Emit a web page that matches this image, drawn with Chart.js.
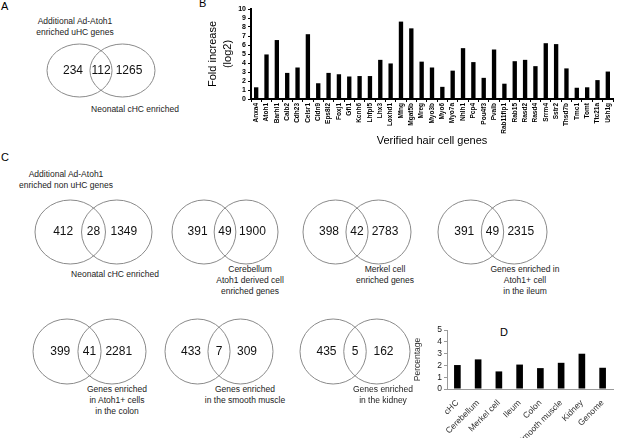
<!DOCTYPE html>
<html>
<head>
<meta charset="utf-8">
<script src="https://cdn.jsdelivr.net/npm/chart.js@4"></script>
<style>
  body { margin: 0; background: #fff; width: 617px; height: 438px; overflow: hidden; position: relative; font-family: Arial, "Liberation Sans", sans-serif; }
  canvas { position: absolute; }
  .lbl { position: absolute; color: #222; font-size: 8.5px; line-height: 11px; white-space: nowrap; text-align: center; transform: translateX(-50%); }
  .panel { position: absolute; font-size: 11px; color: #000; }
</style>
</head>
<body>
<div class="panel" style="left:1px;top:0px">A</div>
<div class="panel" style="left:199px;top:-3px">B</div>
<div class="panel" style="left:1px;top:151px">C</div>
<div class="panel" style="left:500px;top:326px">D</div>

<canvas id="chartB" width="414" height="150" style="left:203px;top:0px"></canvas>
<canvas id="chartD" width="204" height="118" style="left:413px;top:320px"></canvas>

<script>
// panel B
const geneLabels = ['Anxa4', 'Atoh1', 'Barhl1', 'Calb2', 'Cdh23', 'Celsr1', 'Cldn9', 'Eps8l2', 'Foxj1', 'Gfi1',
  'Kcnh6', 'Lhfpl5', 'Lhx3', 'Loxhd1', 'Mfng', 'Mgat5b', 'Mreg', 'Myo3b', 'Myo6', 'Myo7a',
  'Nhlh1', 'Pcp4', 'Pou4f3', 'Pvalb', 'Rab11fip1', 'Rab15', 'Rasd2', 'Rasd4', 'Srrm4', 'Sstr2',
  'Thsd7b', 'Tmc1', 'Tomt', 'Ttc21a', 'Ush1g'];
const foldIncrease = [1.3, 4.95, 6.55, 2.9, 3.5, 7.2, 1.75, 2.9, 2.75, 2.5,
  2.55, 2.55, 4.35, 3.95, 8.6, 7.85, 4.15, 3.5, 1.35, 3.15,
  5.65, 4.1, 2.35, 5.5, 1.7, 4.2, 4.35, 3.65, 6.2, 6.1,
  3.4, 1.25, 1.3, 2.1, 3.05];

// panel D
const tissueLabels = ['cHC', 'Cerebellum', 'Merkel cell', 'Ileum', 'Colon', 'Smooth muscle', 'Kidney', 'Genome'];
const percentOverlap = [2.03, 2.51, 1.49, 2.07, 1.77, 2.22, 2.99, 1.8];

// venn diagrams: [left only, overlap, right only]
const vennCounts = [
  [234, 112, 1265],
  [412, 28, 1349],
  [391, 49, 1900],
  [398, 42, 2783],
  [391, 49, 2315],
  [399, 41, 2281],
  [433, 7, 309],
  [435, 5, 162]
];
const vennCaptions = [
  ['Additional Ad-Atoh1', 'enriched uHC genes'],
  ['Neonatal cHC enriched'],
  ['Additional Ad-Atoh1', 'enriched non uHC genes'],
  ['Neonatal cHC enriched'],
  ['Cerebellum', 'Atoh1 derived cell', 'enriched genes'],
  ['Merkel cell', 'enriched genes'],
  ['Genes enriched in', 'Atoh1+ cell', 'in the ileum'],
  ['Genes enriched', 'in Atoh1+ cells', 'in the colon'],
  ['Genes enriched', 'in the smooth muscle'],
  ['Genes enriched', 'in the kidney']
];

// layout only
const vennBoxes = [
  [47, 44, 108, 53, 0.66],
  [35, 200, 117, 64, 0.66],
  [172, 200, 106, 64, 0.66],
  [303, 200, 108, 64, 0.66],
  [438, 200, 109, 64, 0.66],
  [33, 319, 113, 65, 0.66],
  [165, 319, 108, 65, 0.66],
  [300, 319, 110, 65, 0.66]
];
const captionPos = [[75, 16], [135, 104], [66, 169], [115, 269], [250, 264], [385, 264], [525, 264],
  [117, 384], [245, 384], [383, 384]];

const FONT = 'Arial, "Liberation Sans", sans-serif';
Chart.defaults.font.family = FONT;

vennCaptions.forEach((lines, i) => {
  const d = document.createElement('div');
  d.className = 'lbl';
  d.style.left = captionPos[i][0] + 'px';
  d.style.top = captionPos[i][1] + 'px';
  d.innerHTML = lines.join('<br>');
  document.body.appendChild(d);
});

const vennPlugin = {
  id: 'venn',
  afterDatasetsDraw(chart, args, opts) {
    const { ctx, scales: { x, y } } = chart;
    const c = opts.sep;
    const rx = x.getPixelForValue(1) - x.getPixelForValue(0);
    const ry = Math.abs(y.getPixelForValue(1) - y.getPixelForValue(0));
    const cy = y.getPixelForValue(0);
    ctx.save();
    ctx.strokeStyle = '#8a8a8a';
    ctx.lineWidth = 1;
    [-c, c].forEach(cx => {
      ctx.beginPath();
      ctx.ellipse(x.getPixelForValue(cx), cy, rx, ry, 0, 0, 2 * Math.PI);
      ctx.stroke();
    });
    ctx.fillStyle = '#111';
    ctx.font = '12px ' + FONT;
    ctx.textAlign = 'center';
    ctx.textBaseline = 'middle';
    const xs = [-(c + 0.2), 0, c + 0.2];
    opts.counts.forEach((v, k) => ctx.fillText(String(v), x.getPixelForValue(xs[k]), cy));
    ctx.restore();
  }
};

vennCounts.forEach((counts, i) => {
  const [l, t, w, h, sep] = vennBoxes[i];
  const cv = document.createElement('canvas');
  cv.width = w + 4;
  cv.height = h + 4;
  cv.style.left = (l - 2) + 'px';
  cv.style.top = (t - 2) + 'px';
  document.body.appendChild(cv);
  new Chart(cv, {
    type: 'scatter',
    data: { datasets: [{ data: [] }] },
    options: {
      responsive: false, animation: false, devicePixelRatio: 1,
      layout: { padding: 2 },
      plugins: { legend: { display: false }, tooltip: { enabled: false }, venn: { counts: counts, sep: sep } },
      scales: {
        x: { display: false, min: -(1 + sep), max: 1 + sep },
        y: { display: false, min: -1, max: 1 }
      }
    },
    plugins: [vennPlugin]
  });
});

new Chart(document.getElementById('chartB'), {
  type: 'bar',
  data: {
    labels: geneLabels,
    datasets: [{ data: foldIncrease, backgroundColor: '#000', barPercentage: 0.42, categoryPercentage: 1 }]
  },
  options: {
    responsive: false, animation: false, devicePixelRatio: 1,
    layout: { padding: { top: 9, right: 4 } },
    plugins: { legend: { display: false }, tooltip: { enabled: false } },
    scales: {
      x: {
        grid: { drawOnChartArea: false, tickLength: 3, color: '#000' },
        border: { color: '#000', width: 2 },
        ticks: { autoSkip: false, minRotation: 90, maxRotation: 90, padding: 1, color: '#000', font: { size: 6.5, weight: 'bold' } },
        title: { display: true, text: 'Verified hair cell genes', color: '#000', font: { size: 11 }, padding: { top: 4, bottom: 2 } },
        afterFit: s => { s.height = 51; }
      },
      y: {
        min: 0, max: 10,
        grid: { drawOnChartArea: false, tickLength: 3, color: '#000' },
        border: { color: '#000', width: 2 },
        ticks: { stepSize: 1, autoSkip: false, padding: 2, color: '#000', font: { size: 7, weight: 'bold' } },
        title: { display: true, text: ['Fold increase', '(log2)'], color: '#000', font: { size: 11, lineHeight: 1.35 }, padding: { top: 3, bottom: 2 } },
        afterFit: s => { s.width = 48; }
      }
    }
  }
});

new Chart(document.getElementById('chartD'), {
  type: 'bar',
  data: {
    labels: tissueLabels,
    datasets: [{ data: percentOverlap, backgroundColor: '#000', barPercentage: 0.32, categoryPercentage: 1 }]
  },
  options: {
    responsive: false, animation: false, devicePixelRatio: 1,
    layout: { padding: { top: 10, right: 4 } },
    plugins: { legend: { display: false }, tooltip: { enabled: false } },
    scales: {
      x: {
        grid: { display: false },
        border: { color: '#9a9a9a', width: 1 },
        ticks: { autoSkip: false, minRotation: 45, maxRotation: 45, padding: 1, color: '#333', font: { size: 8.5 } },
        afterFit: s => { s.height = 49; }
      },
      y: {
        min: 0, max: 5,
        grid: { drawOnChartArea: false, tickLength: 3, color: '#9a9a9a' },
        border: { color: '#9a9a9a', width: 1 },
        ticks: { stepSize: 1, autoSkip: true, autoSkipPadding: 0, padding: 2, color: '#222', font: { size: 8.5, lineHeight: 1 } },
        title: { display: true, text: 'Percentage', color: '#333', font: { size: 8.5 }, padding: { top: 0, bottom: 2 } },
        afterFit: s => { s.width = 34; }
      }
    }
  }
});
</script>
</body>
</html>
